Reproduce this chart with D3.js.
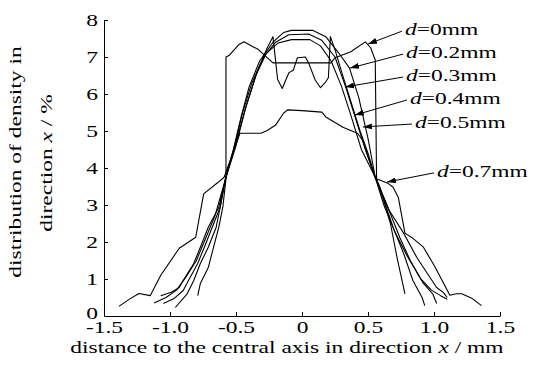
<!DOCTYPE html>
<html>
<head>
<meta charset="utf-8">
<script src="https://cdn.jsdelivr.net/npm/d3@7"></script>
<style>
  body { margin: 0; background: #fff; }
  text { font-family: "Liberation Serif", "Times New Roman", serif; fill: #000; }
</style>
</head>
<body>
<div id="chart"></div>
<script>
// axis ticks
var xTicks = [-1.5, -1.0, -0.5, 0, 0.5, 1.0, 1.5];
var xTickLabels = ["-1.5", "-1.0", "-0.5", "0", "0.5", "1.0", "1.5"];
var yTicks = [0, 1, 2, 3, 4, 5, 6, 7, 8];

// curves (x in mm, y in %)
var x00 = [-0.79, -0.77, -0.71, -0.67, -0.63, -0.60, -0.576, -0.576, -0.55, -0.48, -0.44, -0.33, -0.22, 0.22, 0.25, 0.37, 0.48, 0.52, 0.555, 0.565, 0.59, 0.67, 0.72, 0.78];
var y00 = [0.55, 0.88, 1.31, 1.86, 2.40, 2.94, 3.70, 7.00, 7.05, 7.33, 7.41, 7.20, 6.84, 6.84, 6.98, 7.14, 7.41, 7.25, 6.92, 3.70, 3.48, 2.50, 1.58, 0.60];

var x02 = [-0.96, -0.87, -0.82, -0.77, -0.71, -0.65, -0.62, -0.58, -0.52, -0.46, -0.40, -0.32, -0.22, -0.14, -0.08, 0.08, 0.18, 0.28, 0.36, 0.43, 0.50, 0.555, 0.62, 0.69, 0.77, 0.84, 0.91, 0.93];
var y02 = [0.23, 0.60, 0.96, 1.42, 1.86, 2.40, 2.94, 3.70, 4.50, 5.40, 6.20, 6.90, 7.40, 7.66, 7.72, 7.72, 7.55, 7.10, 6.70, 5.90, 4.80, 3.75, 3.13, 2.40, 1.69, 0.96, 0.50, 0.28];

var x03 = [-1.05, -0.97, -0.90, -0.86, -0.79, -0.74, -0.68, -0.62, -0.58, -0.51, -0.45, -0.38, -0.29, -0.20, -0.10, 0.05, 0.15, 0.25, 0.33, 0.40, 0.48, 0.555, 0.65, 0.74, 0.82, 0.92, 0.99, 1.02];
var y03 = [0.34, 0.47, 0.69, 0.96, 1.42, 1.86, 2.40, 2.94, 3.70, 4.60, 5.50, 6.30, 7.00, 7.40, 7.60, 7.62, 7.45, 7.00, 6.20, 5.40, 4.50, 3.75, 2.94, 2.13, 1.50, 0.88, 0.60, 0.34];

var x04 = [-1.07, -0.99, -0.93, -0.90, -0.82, -0.77, -0.71, -0.63, -0.58, -0.50, -0.43, -0.35, -0.27, -0.18, -0.08, 0.06, 0.14, 0.22, 0.30, 0.37, 0.45, 0.555, 0.66, 0.77, 0.87, 0.95, 1.02, 1.07, 1.10];
var y04 = [0.55, 0.64, 0.77, 0.96, 1.42, 1.86, 2.40, 2.94, 3.70, 4.60, 5.60, 6.50, 7.10, 7.38, 7.47, 7.47, 7.30, 6.90, 6.20, 5.43, 4.50, 3.75, 2.86, 2.24, 1.58, 1.15, 0.77, 0.64, 0.50];

var x05 = [-1.12, -1.03, -0.95, -0.88, -0.80, -0.73, -0.66, -0.58, -0.50, -0.42, -0.34, -0.27, -0.22, -0.185, -0.15, -0.10, -0.065, -0.035, 0.026, 0.05, 0.10, 0.14, 0.18, 0.20, 0.215, 0.25, 0.30, 0.37, 0.44, 0.50, 0.555, 0.62, 0.70, 0.80, 0.90, 0.98, 1.05, 1.10];
var y05 = [0.35, 0.50, 0.70, 1.05, 1.50, 2.10, 2.70, 3.70, 4.70, 5.70, 6.60, 7.20, 7.55, 6.40, 6.15, 6.57, 6.65, 6.98, 7.00, 6.84, 6.38, 6.17, 6.33, 6.44, 7.55, 7.20, 6.60, 5.80, 5.00, 4.40, 3.75, 3.00, 2.30, 1.60, 1.00, 0.70, 0.55, 0.45];

var x07 = [-1.387, -1.31, -1.235, -1.15, -1.07, -0.93, -0.805, -0.745, -0.64, -0.59, -0.47, -0.31, -0.26, -0.20, -0.14, -0.11, 0.0, 0.15, 0.18, 0.31, 0.42, 0.46, 0.555, 0.65, 0.69, 0.73, 0.78, 0.84, 0.92, 1.01, 1.12, 1.17, 1.21, 1.29, 1.36];
var y07 = [0.26, 0.45, 0.61, 0.55, 1.10, 1.83, 2.13, 3.30, 3.60, 3.75, 4.94, 4.94, 5.02, 5.16, 5.48, 5.57, 5.55, 5.51, 5.38, 5.10, 4.94, 4.75, 3.72, 3.59, 3.48, 3.20, 2.24, 2.10, 1.86, 1.31, 0.56, 0.60, 0.60, 0.47, 0.28];

// labels with arrows: where the text starts and where the arrow points
var labelNames = ["0", "0.2", "0.3", "0.4", "0.5", "0.7"];
var labelX = [0.78, 0.788, 0.788, 0.818, 0.856, 1.023];
var labelY = [7.59, 6.97, 6.35, 5.73, 5.08, 3.76];
var tipX = [0.50, 0.364, 0.326, 0.40, 0.462, 0.644];
var tipY = [7.35, 6.70, 6.19, 5.43, 5.11, 3.62];

var svgWidth = 533;
var svgHeight = 370;
var margin = { top: 20, right: 33, bottom: 54, left: 104 };
var width = svgWidth - margin.left - margin.right;
var height = svgHeight - margin.top - margin.bottom;

var fontSize = 17;
// the printed font is much wider than Times, so stretch text sideways
var widen = 1.38;
function stretch(sel) {
  sel.each(function() {
    var w = this.getComputedTextLength();
    d3.select(this).attr("textLength", w * widen).attr("lengthAdjust", "spacingAndGlyphs");
  });
}

var svg = d3.select("#chart")
  .append("svg")
  .attr("width", svgWidth)
  .attr("height", svgHeight);

var xScale = d3.scaleLinear().domain([-1.5, 1.5]).range([margin.left, margin.left + width]);
var yScale = d3.scaleLinear().domain([0, 8]).range([margin.top + height, margin.top]);

var xAxis = d3.axisBottom(xScale)
  .tickValues(xTicks)
  .tickFormat(function(d, i) { return xTickLabels[i]; })
  .tickSizeInner(-4)
  .tickSizeOuter(0)
  .tickPadding(5);

var yAxis = d3.axisLeft(yScale)
  .tickValues(yTicks)
  .tickFormat(d3.format("d"))
  .tickSizeInner(-4)
  .tickSizeOuter(0)
  .tickPadding(6);

var gx = svg.append("g")
  .attr("transform", "translate(0," + (margin.top + height) + ")")
  .call(xAxis);
var gy = svg.append("g")
  .attr("transform", "translate(" + margin.left + ",0)")
  .call(yAxis);

[gx, gy].forEach(function(g) {
  g.selectAll("path, line").attr("stroke", "#000").attr("stroke-width", 1);
  g.selectAll("text")
    .attr("font-family", "Liberation Serif")
    .attr("font-size", fontSize)
    .attr("fill", "#000");
});
// the zero sits a little above the corner in the print
var zeroTick = gy.selectAll(".tick").filter(function(d) { return d === 0; });
zeroTick.select("line").remove();
zeroTick.select("text").attr("y", -3);
stretch(gx.selectAll("text"));
stretch(gy.selectAll("text"));

// curves
var series = [[x00, y00], [x02, y02], [x03, y03], [x04, y04], [x05, y05], [x07, y07]];
var line = d3.line()
  .x(function(d) { return xScale(d[0]); })
  .y(function(d) { return yScale(d[1]); });

svg.append("g")
  .selectAll("path")
  .data(series)
  .enter()
  .append("path")
  .attr("d", function(s) { return line(d3.zip(s[0], s[1])); })
  .attr("fill", "none")
  .attr("stroke", "#000")
  .attr("stroke-width", 1.1)
  .attr("stroke-linejoin", "round");

// arrow heads
svg.append("defs").append("marker")
  .attr("id", "head")
  .attr("viewBox", "0 0 9 6")
  .attr("refX", 9)
  .attr("refY", 3)
  .attr("markerWidth", 9)
  .attr("markerHeight", 6)
  .attr("markerUnits", "userSpaceOnUse")
  .attr("orient", "auto")
  .append("path")
  .attr("d", "M0,0 L9,3 L0,6 Z")
  .attr("fill", "#000");

var notes = svg.append("g").selectAll("g").data(labelNames).enter().append("g");

notes.append("line")
  .attr("x1", function(d, i) { return xScale(labelX[i]) - 3; })
  .attr("y1", function(d, i) { return yScale(labelY[i]) - 4; })
  .attr("x2", function(d, i) { return xScale(tipX[i]); })
  .attr("y2", function(d, i) { return yScale(tipY[i]); })
  .attr("stroke", "#000")
  .attr("stroke-width", 1)
  .attr("marker-end", "url(#head)");

var noteText = notes.append("text")
  .attr("x", function(d, i) { return xScale(labelX[i]); })
  .attr("y", function(d, i) { return yScale(labelY[i]); })
  .attr("font-size", fontSize);
noteText.append("tspan").attr("font-style", "italic").text("d");
noteText.append("tspan").text(function(d) { return "=" + d + "mm"; });
stretch(noteText);

// axis titles
var xTitle = svg.append("text")
  .attr("x", 287)
  .attr("y", 353)
  .attr("text-anchor", "middle")
  .attr("font-size", fontSize);
xTitle.append("tspan").text("distance to the central axis in direction ");
xTitle.append("tspan").attr("font-style", "italic").text("x");
xTitle.append("tspan").text(" / mm");
stretch(xTitle);

var yTitle1 = svg.append("text")
  .attr("transform", "translate(21,162) rotate(-90)")
  .attr("text-anchor", "middle")
  .attr("font-size", fontSize)
  .text("distribution of density in");
stretch(yTitle1);

var yTitle2 = svg.append("text")
  .attr("transform", "translate(52,163) rotate(-90)")
  .attr("text-anchor", "middle")
  .attr("font-size", fontSize);
yTitle2.append("tspan").text("direction ");
yTitle2.append("tspan").attr("font-style", "italic").text("x");
yTitle2.append("tspan").text(" / %");
stretch(yTitle2);
</script>
</body>
</html>
